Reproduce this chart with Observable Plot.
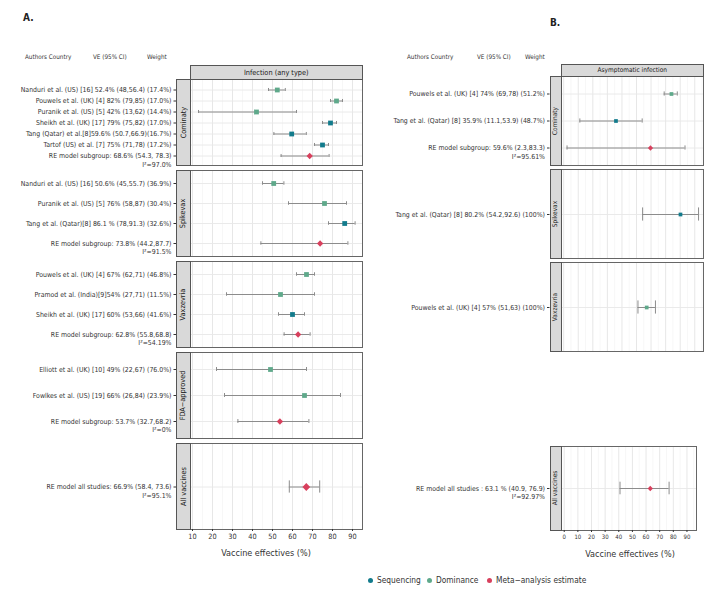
<!DOCTYPE html>
<html><head><meta charset="utf-8">
<script src="https://cdn.jsdelivr.net/npm/d3@7"></script>
<script src="https://cdn.jsdelivr.net/npm/@observablehq/plot@0.6"></script>
<style>
body{margin:0;background:#fff;}
#root{position:relative;width:725px;height:593px;overflow:hidden;font-family:"Liberation Sans Narrow","Arial Narrow","DejaVu Sans Condensed",sans-serif;color:#333;}
#root svg{position:absolute;}
.abs{position:absolute;white-space:nowrap;line-height:1;}
.strip{position:absolute;background:#d9d9d9;border:1px solid #555;box-sizing:border-box;display:flex;align-items:center;justify-content:center;color:#1a1a1a;white-space:nowrap;}
.vstrip span{display:block;transform:rotate(-90deg);white-space:nowrap;}
.legdot{position:absolute;border-radius:50%;width:5px;height:5px;}
</style></head><body><div id="root"></div>
<script>
const FONT = '"Liberation Sans Narrow","Arial Narrow","DejaVu Sans Condensed",sans-serif';

// ---------- shared categories ----------
const types = ["Sequencing", "Dominance", "Meta−analysis estimate"];
const typeColors = ["#127b8c", "#5fa98b", "#d8405d"];
const META = types[2];
const headerCols = ["Authors Country", "VE (95% CI)", "Weight"];
const outcomeTitles = ["Infection (any type)", "Asymptomatic infection"];
const axisTitle = "Vaccine effectives (%)";

// ---------- Panel A: infection (any type) ----------
const groupsA = ["Cominaty", "Spikevax", "Vaxzevria", "FDA−approved", "All vaccines"];
const groupA = ["Cominaty","Cominaty","Cominaty","Cominaty","Cominaty","Cominaty","Cominaty",
  "Spikevax","Spikevax","Spikevax","Spikevax",
  "Vaxzevria","Vaxzevria","Vaxzevria","Vaxzevria",
  "FDA−approved","FDA−approved","FDA−approved",
  "All vaccines"];
const labelA = [
  "Nanduri et al. (US) [16] 52.4% (48,56.4) (17.4%)",
  "Pouwels et al. (UK) [4] 82% (79,85) (17.0%)",
  "Puranik et al. (US) [5] 42% (13,62) (14.4%)",
  "Sheikh et al. (UK) [17] 79% (75,82) (17.0%)",
  "Tang (Qatar) et al.[8]59.6% (50.7,66.9)(16.7%)",
  "Tartof (US) et al. [7] 75% (71,78) (17.2%)",
  "RE model subgroup: 68.6% (54.3, 78.3)",
  "Nanduri et al. (US) [16] 50.6% (45,55.7) (36.9%)",
  "Puranik et al. (US) [5] 76% (58,87) (30.4%)",
  "Tang et al. (Qatar)[8] 86.1 % (78,91.3) (32.6%)",
  "RE model subgroup: 73.8% (44.2,87.7)",
  "Pouwels et al. (UK) [4] 67% (62,71) (46.8%)",
  "Pramod et al. (India)[9]54% (27,71) (11.5%)",
  "Sheikh et al. (UK) [17] 60% (53,66) (41.6%)",
  "RE model subgroup: 62.8% (55.8,68.8)",
  "Elliott et al. (UK) [10] 49% (22,67) (76.0%)",
  "Fowlkes et al. (US) [19] 66% (26,84) (23.9%)",
  "RE model subgroup: 53.7% (32.7,68.2)",
  "RE model all studies: 66.9% (58.4, 73.6)"
];
const i2A = ["","","","","","","I²=97.0%", "","","","I²=91.5%", "","","","I²=54.19%", "","","I²=0%", "I²=95.1%"];
const veA = [52.4, 82, 42, 79, 59.6, 75, 68.6, 50.6, 76, 86.1, 73.8, 67, 54, 60, 62.8, 49, 66, 53.7, 66.9];
const loA = [48, 79, 13, 75, 50.7, 71, 54.3, 45, 58, 78, 44.2, 62, 27, 53, 55.8, 22, 26, 32.7, 58.4];
const hiA = [56.4, 85, 62, 82, 66.9, 78, 78.3, 55.7, 87, 91.3, 87.7, 71, 71, 66, 68.8, 67, 84, 68.2, 73.6];
const typeA = ["Dominance","Dominance","Dominance","Sequencing","Sequencing","Sequencing",META,
  "Dominance","Dominance","Sequencing",META,
  "Dominance","Dominance","Sequencing",META,
  "Dominance","Dominance",META,
  META];
const xTicksA = [10, 20, 30, 40, 50, 60, 70, 80, 90];
const xMinorA = [15, 25, 35, 45, 55, 65, 75, 85, 95];

// ---------- Panel B: asymptomatic infection ----------
const groupsB = ["Cominaty", "Spikevax", "Vaxzevria", "All vaccines"];
const groupB = ["Cominaty","Cominaty","Cominaty","Spikevax","Vaxzevria","All vaccines"];
const labelB = [
  "Pouwels et al. (UK) [4] 74% (69,78) (51.2%)",
  "Tang et al. (Qatar) [8] 35.9% (11.1,53.9) (48.7%)",
  "RE model subgroup: 59.6% (2.3,83.3)",
  "Tang et al. (Qatar) [8] 80.2% (54.2,92.6) (100%)",
  "Pouwels et al. (UK) [4] 57% (51,63) (100%)",
  "RE model all studies : 63.1 % (40.9, 76.9)"
];
const i2B = ["", "", "I²=95.61%", "", "", "I²=92.97%"];
const veB = [74, 35.9, 59.6, 80.2, 57, 63.1];
const loB = [69, 11.1, 2.3, 54.2, 51, 40.9];
const hiB = [78, 53.9, 83.3, 92.6, 63, 76.9];
const typeB = ["Dominance", "Sequencing", META, "Sequencing", "Dominance", META];
const xTicksB = [0, 10, 20, 30, 40, 50, 60, 70, 80, 90];
const xMinorB = [5, 15, 25, 35, 45, 55, 65, 75, 85, 95];

// ---------- build rows ----------
function buildRows(groups, labels, i2s, ve, lo, hi, tp) {
  return labels.map((label, i) => ({key: String(i), group: groups[i], label, i2: i2s[i], ve: ve[i], lo: lo[i], hi: hi[i], type: tp[i]}));
}
const rowsA = buildRows(groupA, labelA, i2A, veA, loA, hiA, typeA);
const rowsB = buildRows(groupB, labelB, i2B, veB, loB, hiB, typeB);

const root = document.getElementById("root");

const diamond = {draw(ctx, size) { const s = Math.sqrt(size / 2); ctx.moveTo(0, -s); ctx.lineTo(s, 0); ctx.lineTo(0, s); ctx.lineTo(-s, 0); ctx.closePath(); }};

function addText(txt, x, y, {size = 7, anchor = "start", weight = 400, color = "#333"} = {}) {
  const d = document.createElement("div");
  d.className = "abs"; d.textContent = txt;
  d.style.left = x + "px"; d.style.top = y + "px";
  d.style.fontSize = size + "px"; d.style.fontWeight = weight; d.style.color = color;
  const tx = anchor === "middle" ? "-50%" : anchor === "end" ? "-100%" : "0";
  d.style.transform = `translate(${tx},-50%)`;
  root.appendChild(d);
}
function addStrip(txt, x1, y1, x2, y2, size, vertical) {
  const d = document.createElement("div");
  d.className = "strip" + (vertical ? " vstrip" : "");
  d.style.left = x1 + "px"; d.style.top = y1 + "px";
  d.style.width = (x2 - x1) + "px"; d.style.height = (y2 - y1) + "px";
  d.style.fontSize = size + "px";
  const s = document.createElement("span"); s.textContent = txt; d.appendChild(s);
  root.appendChild(d);
}

function drawPanel(rows, o) {
  const n = rows.length;
  const h = o.bottom - o.top;
  const step = h / (n + 0.2);
  const cap = Math.max(4, 0.18 * step);
  const inset = (step - cap) / 2;
  const mTop = 2, mBottom = o.axis ? 16 : 14;
  const study = rows.filter(d => d.type !== META);
  const meta = rows.filter(d => d.type === META);
  const labelOf = new Map(rows.map(d => [d.key, d.label]));
  const svg = Plot.plot({
    width: o.svgWidth,
    height: h + mTop + mBottom,
    marginLeft: o.plotLeft - o.svgLeft,
    marginRight: o.svgLeft + o.svgWidth - o.plotRight,
    marginTop: mTop, marginBottom: mBottom,
    style: {background: "transparent", overflow: "visible", color: "#333", fontFamily: FONT},
    x: {domain: o.xDomain},
    y: {type: "band", domain: rows.map(d => d.key), paddingInner: 0, paddingOuter: 0.1},
    color: {domain: types, range: typeColors},
    marks: [
      Plot.gridX(o.minor, {stroke: "#f2f2f2", strokeOpacity: 1, strokeWidth: 0.6}),
      Plot.gridX(o.major, {stroke: "#e4e4e4", strokeOpacity: 1, strokeWidth: 0.9}),
      Plot.gridY({stroke: "#e8e8e8", strokeOpacity: 1, strokeWidth: 0.9}),
      Plot.ruleY(rows, {y: "key", x1: "lo", x2: "hi", stroke: "#8c8c8c", strokeWidth: 1}),
      Plot.tickX(rows, {x: "lo", y: "key", insetTop: inset, insetBottom: inset, stroke: "#8c8c8c", strokeWidth: 1}),
      Plot.tickX(rows, {x: "hi", y: "key", insetTop: inset, insetBottom: inset, stroke: "#8c8c8c", strokeWidth: 1}),
      Plot.dot(study, {x: "ve", y: "key", fill: "type", symbol: "square", r: o.r, stroke: null}),
      Plot.dot(meta, {x: "ve", y: "key", fill: "type", symbol: diamond, r: o.rMeta, stroke: null}),
      Plot.frame({stroke: "#666", strokeWidth: 1}),
      Plot.axisY({dx: o.stripLeft - o.plotLeft, tickSize: 2.5, tickPadding: 2.5, tickFormat: k => labelOf.get(k), fontSize: o.fontSize, label: null}),
      Plot.text(rows.filter(d => d.i2), {y: "key", text: "i2", frameAnchor: "left", dx: o.stripLeft - o.plotLeft - 5, dy: o.i2dy, textAnchor: "end", fontSize: o.fontSize}),
      o.axis ? Plot.axisX(o.major, {tickSize: 2, tickPadding: 2, fontSize: o.axisFont, label: null}) : Plot.axisX({ticks: []})
    ]
  });
  svg.style.left = o.svgLeft + "px";
  svg.style.top = (o.top - mTop) + "px";
  root.appendChild(svg);
  return svg;
}

// ---------- layout A ----------
const panelsA = [[79, 165], [170, 256], [261, 347], [352, 438], [443, 529]];
groupsA.forEach((g, gi) => {
  drawPanel(rowsA.filter(d => d.group === g), {
    svgLeft: 0, svgWidth: 368, plotLeft: 190, plotRight: 362, stripLeft: 176,
    top: panelsA[gi][0], bottom: panelsA[gi][1],
    xDomain: [9, 95], major: xTicksA, minor: xMinorA,
    r: 2.7, rMeta: g === "All vaccines" ? 3.1 : 2.5, fontSize: 6.9, i2dy: 8.7,
    axis: gi === groupsA.length - 1, axisFont: 7.3
  });
});
addStrip(outcomeTitles[0], 190, 65, 362.5, 79.5, 7.3, false);
groupsA.forEach((g, gi) => addStrip(g, 176, panelsA[gi][0], 190.5, panelsA[gi][1] + 0.5, 7.3, true));

// ---------- layout B ----------
const panelsB = [[76, 165], [169, 258], [262, 351], [446, 530]];
groupsB.forEach((g, gi) => {
  const last = gi === groupsB.length - 1;
  drawPanel(rowsB.filter(d => d.group === g), {
    svgLeft: 370, svgWidth: 355, plotLeft: 561, plotRight: last ? 696 : 703, stripLeft: 549.5,
    top: panelsB[gi][0], bottom: panelsB[gi][1],
    xDomain: last ? [-2, 97] : [-1.5, 96], major: xTicksB, minor: xMinorB,
    r: 2.1, rMeta: 2.1, fontSize: 6.9, i2dy: 8.3,
    axis: last, axisFont: 6
  });
});
addStrip(outcomeTitles[1], 561, 64, 703.5, 76.5, 6.5, false);
groupsB.forEach((g, gi) => addStrip(g, 549.5, panelsB[gi][0], 561.5, panelsB[gi][1] + 0.5, 6.5, true));

// ---------- titles & headers ----------
addText("A.", 23, 18, {size: 10, weight: 700, color: "#222"});
addText("B.", 550, 22.5, {size: 10, weight: 700, color: "#222"});
[25, 93, 147].forEach((x, i) => addText(headerCols[i], x, 57, {size: 6.3, color: "#333"}));
[407, 477, 525].forEach((x, i) => addText(headerCols[i], x, 57, {size: 6.3, color: "#333"}));
addText(axisTitle, 266, 553, {size: 9, anchor: "middle", color: "#333"});
addText(axisTitle, 630, 554, {size: 9, anchor: "middle", color: "#333"});

// ---------- legend ----------
const legendX = [370, 429, 489];
types.forEach((t, i) => {
  const dot = document.createElement("div");
  dot.className = "legdot";
  dot.style.background = typeColors[i];
  dot.style.left = (legendX[i] - 2.5) + "px"; dot.style.top = (580 - 2.5) + "px";
  root.appendChild(dot);
  addText(t, legendX[i] + 7, 580, {size: 8.3, color: "#333"});
});
</script></body></html>
